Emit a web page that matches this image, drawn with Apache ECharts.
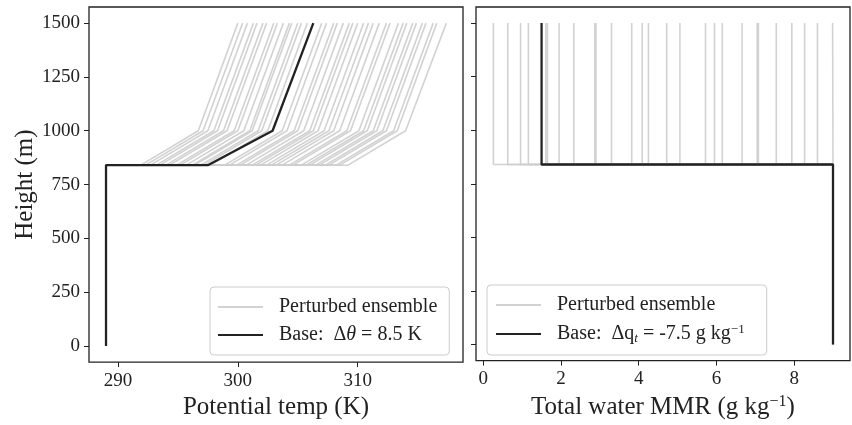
<!DOCTYPE html>
<html>
<head>
<meta charset="utf-8">
<script src="https://cdn.jsdelivr.net/npm/echarts@6/dist/echarts.min.js"></script>
<style>
  html, body { margin: 0; padding: 0; background: #fff; }
  #chart { width: 852px; height: 425px; }
</style>
</head>
<body>
<div id="chart"></div>
<script>
// Vertical levels (m) of the profile break points
const thetaLevels = [0, 840, 840, 1000, 1500];
const qtLevels = [0, 840, 840, 1500];

// Base profiles
const baseTheta = [289, 289, 297.5, 302.9, 306.3];   // K
const baseQt = [9, 9, 1.5, 1.5];                       // g/kg

// Boundary-layer values shared by every ensemble member
const ensThetaBL = 289;
const ensQtBL = 9;

// Perturbed ensemble: potential temperature just above the inversion, at 1000 m and at 1500 m
const ensTheta840 = [291.9, 292.3, 292.7, 293.2, 293.5, 294.0, 294.3, 294.9, 295.2, 295.7, 296.2, 296.4, 296.9,
  297.2, 297.7, 298.9, 299.3, 299.9, 300.2, 300.7, 301.2, 301.5, 301.9, 302.4, 302.8, 303.2, 303.7, 304.3,
  304.6, 305.3, 305.7, 306.0, 306.5, 306.8, 307.3, 307.6, 308.2, 308.5, 309.2];
const ensTheta1000 = [296.7, 297.1, 297.5, 298.0, 298.3, 298.8, 299.1, 299.7, 300.0, 300.5, 301.0, 301.2, 301.7,
  302.0, 302.5, 303.7, 304.1, 304.7, 305.0, 305.5, 306.0, 306.3, 306.7, 307.2, 307.6, 308.0, 308.5, 309.1,
  309.4, 310.1, 310.5, 310.8, 311.3, 311.6, 312.1, 312.4, 313.0, 313.3, 314.0];
const ensTheta1500 = [300.0, 300.4, 300.8, 301.3, 301.6, 302.1, 302.4, 303.0, 303.3, 303.8, 304.3, 304.5, 305.0,
  305.3, 305.8, 307.0, 307.4, 308.0, 308.3, 308.8, 309.3, 309.6, 310.0, 310.5, 310.9, 311.3, 311.8, 312.4,
  312.7, 313.4, 313.8, 314.1, 314.6, 314.9, 315.4, 315.7, 316.3, 316.6, 317.4];

// Perturbed ensemble: total water above the inversion (g/kg)
const ensQtFT = [0.26, 0.63, 0.96, 1.16, 1.61, 1.65, 1.95, 2.33, 2.87, 2.90, 3.30, 3.82, 4.09, 4.25, 4.72,
  5.06, 5.72, 5.95, 6.15, 6.66, 7.05, 7.08, 7.54, 7.94, 8.27, 8.60, 8.99];

// Axis ticks
const heightTicks = [0, 250, 500, 750, 1000, 1250, 1500];
const thetaTicks = [290, 300, 310];
const qtTicks = [0, 2, 4, 6, 8];

const FONT = "'Liberation Serif', 'DejaVu Serif', serif";
const INK = '#222222';
const ENS_COLOR = '#cdcdcd';

const chart = echarts.init(document.getElementById('chart'));

function zip(xs, ys) { return xs.map((x, i) => [x, ys[i]]); }

const series = [];

ensTheta840.forEach((t, i) => {
  series.push({
    type: 'line', name: 'Perturbed ensemble', xAxisIndex: 0, yAxisIndex: 0,
    data: zip([ensThetaBL, ensThetaBL, t, ensTheta1000[i], ensTheta1500[i]], thetaLevels),
    symbol: 'none', silent: true, animation: false,
    lineStyle: { color: ENS_COLOR, width: 1.6, opacity: 0.9 }, itemStyle: { color: ENS_COLOR }
  });
});
series.push({
  type: 'line', name: 'Base theta', xAxisIndex: 0, yAxisIndex: 0,
  data: zip(baseTheta, thetaLevels),
  symbol: 'none', animation: false,
  lineStyle: { color: INK, width: 2.3 }, itemStyle: { color: INK }
});

ensQtFT.forEach((q) => {
  series.push({
    type: 'line', name: 'Perturbed ensemble', xAxisIndex: 1, yAxisIndex: 1,
    data: zip([ensQtBL, ensQtBL, q, q], qtLevels),
    symbol: 'none', silent: true, animation: false,
    lineStyle: { color: ENS_COLOR, width: 1.6, opacity: 0.9 }, itemStyle: { color: ENS_COLOR }
  });
});
series.push({
  type: 'line', name: 'Base qt', xAxisIndex: 1, yAxisIndex: 1,
  data: zip(baseQt, qtLevels),
  symbol: 'none', animation: false,
  lineStyle: { color: INK, width: 2.3 }, itemStyle: { color: INK }
});

const labelStyle = { fontFamily: FONT, fontSize: 19, color: INK };
const nameStyle = {
  fontFamily: FONT, fontSize: 25, color: INK,
  rich: {
    a: { fontFamily: FONT, fontSize: 25, color: INK },
    sup: { fontFamily: FONT, fontSize: 16, color: INK, padding: [0, 0, 12, 0] }
  }
};

function xAxisFor(idx, min, max, ticks, title) {
  return {
    gridIndex: idx, type: 'value', min: min, max: max,
    axisLine: { show: false, onZero: false },
    splitLine: { show: false },
    axisTick: { show: true, length: 5, customValues: ticks, lineStyle: { color: INK, width: 1 } },
    axisLabel: Object.assign({ customValues: ticks, margin: 9, formatter: (v) => String(v) }, labelStyle),
    name: title, nameLocation: 'middle', nameGap: 26, nameTextStyle: nameStyle
  };
}

function yAxisFor(idx, showLabels) {
  return {
    gridIndex: idx, type: 'value', min: -75, max: 1575,
    axisLine: { show: false, onZero: false },
    splitLine: { show: false },
    axisTick: { show: true, length: 5, customValues: heightTicks, lineStyle: { color: INK, width: 1 } },
    axisLabel: Object.assign({ show: showLabels, customValues: heightTicks, margin: 9, formatter: (v) => String(v) }, labelStyle),
    name: showLabels ? 'Height (m)' : '', nameLocation: 'middle', nameGap: 45, nameTextStyle: nameStyle
  };
}

const richBase = { fontFamily: FONT, fontSize: 20, color: INK };
const legendRich = {
  a: Object.assign({}, richBase),
  it: Object.assign({}, richBase, { fontStyle: 'italic' }),
  sub: Object.assign({}, richBase, { fontSize: 13, fontStyle: 'italic', padding: [9, 0, 0, 0] }),
  sup: Object.assign({}, richBase, { fontSize: 13, padding: [0, 0, 9, 0] })
};

function legendText(name) {
  if (name === 'Base theta') return '{a|Base:  Δ}{it|θ}{a| = 8.5 K}';
  if (name === 'Base qt') return '{a|Base:  Δq}{sub|t}{a| = -7.5 g kg}{sup|−1}';
  return '{a|' + name + '}';
}

function legendFor(names, left, top, padding) {
  return {
    data: names, orient: 'vertical', left: left, top: top,
    itemWidth: 45, itemHeight: 14, itemGap: 8,
    padding: padding, selectedMode: false,
    itemStyle: { opacity: 0 },
    backgroundColor: 'rgba(255,255,255,0.85)', borderColor: '#cccccc', borderWidth: 1, borderRadius: 4,
    formatter: legendText,
    textStyle: { fontFamily: FONT, fontSize: 20, color: INK, padding: [0, 0, 0, 11], rich: legendRich }
  };
}

chart.setOption({
  backgroundColor: '#ffffff',
  animation: false,
  grid: [
    { left: 89, top: 7, width: 374, height: 357, show: true, borderColor: INK, borderWidth: 1.3, backgroundColor: 'transparent' },
    { left: 476, top: 7, width: 374, height: 357, show: true, borderColor: INK, borderWidth: 1.3, backgroundColor: 'transparent' }
  ],
  xAxis: [
    xAxisFor(0, 287.58, 318.79, thetaTicks, '{a|Potential temp (K)}'),
    xAxisFor(1, -0.1875, 9.4375, qtTicks, '{a|Total water MMR (g kg}{sup|−1}{a|)}')
  ],
  yAxis: [yAxisFor(0, true), yAxisFor(1, false)],
  legend: [
    legendFor(['Perturbed ensemble', 'Base theta'], 210, 287, [10, 12, 10, 7]),
    legendFor(['Perturbed ensemble', 'Base qt'], 487, 285, [10, 22, 10, 8])
  ],
  series: series
});
</script>
</body>
</html>
